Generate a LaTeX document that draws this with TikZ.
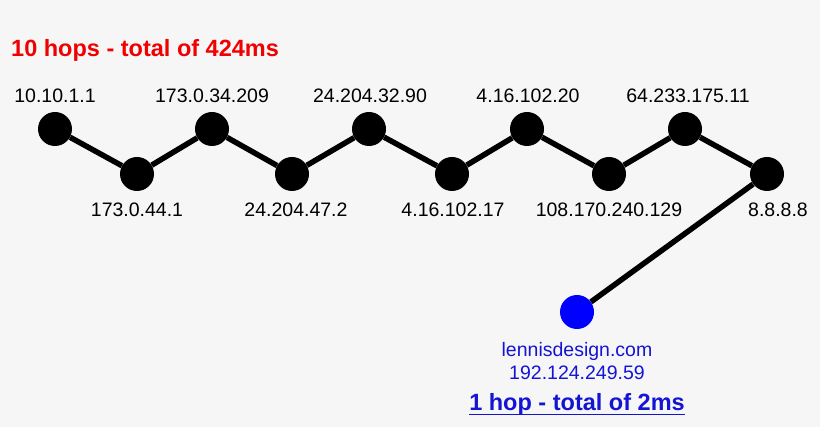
\documentclass[tikz,border=0pt]{standalone}
\usepackage{fontspec}
\setmainfont{Liberation Sans}
\usetikzlibrary{calc}

\definecolor{bgGray}{HTML}{F6F6F6}
\definecolor{hopRed}{HTML}{F00000}
\definecolor{siteBlue}{HTML}{0000FF}
\definecolor{textBlue}{HTML}{1414D2}

\begin{document}
\begin{tikzpicture}[x=1pt, y=-1pt,
    router/.style={circle, fill=black, minimum size=34pt, inner sep=0pt},
    addr/.style={font=\fontsize{19.5}{22}\selectfont, inner sep=0pt, anchor=base},
    link/.style={line width=5.5pt}]

    % Background, same size as the picture
    \fill[bgGray] (0,0) rectangle (820,427);

    % Define the routers of the long path
    \node[router] (r1) at (55,129) {};
    \node[router] (r2) at (137,174) {};
    \node[router] (r3) at (212,129) {};
    \node[router] (r4) at (292,174) {};
    \node[router] (r5) at (369,129) {};
    \node[router] (r6) at (452,174) {};
    \node[router] (r7) at (527,129) {};
    \node[router] (r8) at (609,174) {};
    \node[router] (r9) at (685,129) {};
    \node[router] (r10) at (767,174) {};

    % Define the web server
    \node[router, fill=siteBlue] (web) at (577,312) {};

    % Draw the hops
    \draw[link] (r1) -- (r2) -- (r3) -- (r4) -- (r5) -- (r6) -- (r7) -- (r8) -- (r9) -- (r10);
    \draw[link] (r10) -- (web);

    % Add the addresses above the upper routers
    \node[addr] (a1) at ($(r1)+(0,-26)$) {10.10.1.1};
    \node[addr] (a3) at ($(r3)+(0,-26)$) {173.0.34.209};
    \node[addr] (a5) at ($(r5)+(1,-26)$) {24.204.32.90};
    \node[addr] (a7) at ($(r7)+(1,-26)$) {4.16.102.20};
    \node[addr] (a9) at ($(r9)+(3,-26)$) {64.233.175.11};

    % Add the addresses below the lower routers
    \node[addr] (a2) at ($(r2)+(0,43)$) {173.0.44.1};
    \node[addr] (a4) at ($(r4)+(4,43)$) {24.204.47.2};
    \node[addr] (a6) at ($(r6)+(1,43)$) {4.16.102.17};
    \node[addr] (a8) at ($(r8)+(0,43)$) {108.170.240.129};
    \node[addr] (a10) at ($(r10)+(11,43)$) {8.8.8.8};

    % Add the name and address of the web server
    \node[addr, text=textBlue] (site) at ($(web)+(0,45)$) {lennisdesign.com};
    \node[addr, text=textBlue] (siteip) at ($(web)+(0,68)$) {192.124.249.59};

    % Add the totals
    \node[inner sep=0pt, anchor=base west, text=hopRed, font=\bfseries\fontsize{23.5}{27}\selectfont] (total) at (11,57) {10 hops - total of 424ms};
    \node[inner sep=0pt, anchor=base, text=textBlue, font=\bfseries\fontsize{23.5}{27}\selectfont] (direct) at (577,411) {1 hop - total of 2ms};
    \draw[textBlue, line width=1.8pt] ([yshift=-3.5pt]direct.base west) -- ([yshift=-3.5pt]direct.base east);

\end{tikzpicture}
\end{document}
